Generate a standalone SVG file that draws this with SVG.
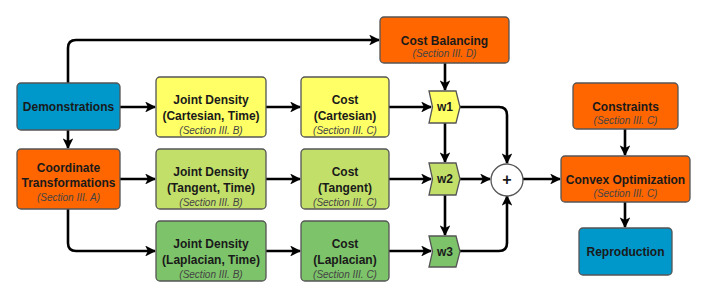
<svg xmlns="http://www.w3.org/2000/svg" width="706" height="298" viewBox="0 0 706 298">
<defs>
<marker id="ah" viewBox="0 0 10 10" refX="9" refY="5" markerWidth="4.2" markerHeight="4.2" markerUnits="strokeWidth" orient="auto">
<path d="M0,0 L10,5 L0,10 L2.5,5 z" fill="#000"/>
</marker>
<style>
.box{stroke:#555;stroke-width:1.3}
.blue{fill:#0097cb}
.orange{fill:#ff6600}
.yellow{fill:#ffff66}
.lg{fill:#c2df6a}
.dg{fill:#7dc36a}
.t{font-family:"Liberation Sans",Arial,sans-serif;font-weight:bold;font-size:12px;fill:#1a1a1a;text-anchor:middle}
.s{font-family:"Liberation Sans",Arial,sans-serif;font-style:italic;font-size:10px;fill:#444;text-anchor:middle}
.c{fill:none;stroke:#000;stroke-width:2.6;stroke-linejoin:round}
.ca{fill:none;stroke:#000;stroke-width:2.6;marker-end:url(#ah)}
</style>
</defs>
<rect width="706" height="298" fill="#fff"/>
<g id="connectors">
<path class="ca" d="M68,83 V48 Q68,40 76,40 H379"/>
<path class="ca" d="M120,107 H155"/>
<path class="ca" d="M68,130 V148"/>
<path class="ca" d="M120,179 H155"/>
<path class="ca" d="M68,209 V243 Q68,251 76,251 H155"/>
<path class="ca" d="M266,107 H300"/>
<path class="ca" d="M266,179 H300"/>
<path class="ca" d="M266,251 H300"/>
<path class="ca" d="M389,107 H431"/>
<path class="ca" d="M389,179 H431"/>
<path class="ca" d="M389,251 H431"/>
<path class="ca" d="M445,63 V90"/>
<path class="ca" d="M445,123 V162"/>
<path class="ca" d="M445,195 V235"/>
<path class="ca" d="M460,107 H499 Q507,107 507,115 V163"/>
<path class="ca" d="M460,179 H490"/>
<path class="ca" d="M460,251 H499 Q507,251 507,243 V196"/>
<path class="ca" d="M523,179 H560"/>
<path class="ca" d="M625,129 V155"/>
<path class="ca" d="M625,202 V227"/>
</g>
<g id="demonstrations">
<rect class="box blue" x="17" y="83" width="103" height="47" rx="4"/>
<text class="t" x="68.5" y="111">Demonstrations</text>
</g>
<g id="coordinate-transformations">
<rect class="box orange" x="17" y="149" width="103" height="60" rx="4"/>
<text class="t" x="68.5" y="172">Coordinate</text>
<text class="t" x="68.5" y="187">Transformations</text>
<text class="s" x="68.5" y="201">(Section III. A)</text>
</g>
<g id="jd-cartesian">
<rect class="box yellow" x="156" y="77" width="110" height="60" rx="4"/>
<text class="t" x="211" y="104">Joint Density</text>
<text class="t" x="211" y="120">(Cartesian, Time)</text>
<text class="s" x="211" y="134">(Section III. B)</text>
</g>
<g id="jd-tangent">
<rect class="box lg" x="156" y="149" width="110" height="60" rx="4"/>
<text class="t" x="211" y="176">Joint Density</text>
<text class="t" x="211" y="192">(Tangent, Time)</text>
<text class="s" x="211" y="206">(Section III. B)</text>
</g>
<g id="jd-laplacian">
<rect class="box dg" x="156" y="221" width="110" height="60" rx="4"/>
<text class="t" x="211" y="248">Joint Density</text>
<text class="t" x="211" y="264">(Laplacian, Time)</text>
<text class="s" x="211" y="278">(Section III. B)</text>
</g>
<g id="cost-cartesian">
<rect class="box yellow" x="301" y="77" width="88" height="60" rx="4"/>
<text class="t" x="345" y="104">Cost</text>
<text class="t" x="345" y="120">(Cartesian)</text>
<text class="s" x="345" y="134">(Section III. C)</text>
</g>
<g id="cost-tangent">
<rect class="box lg" x="301" y="149" width="88" height="60" rx="4"/>
<text class="t" x="345" y="176">Cost</text>
<text class="t" x="345" y="192">(Tangent)</text>
<text class="s" x="345" y="206">(Section III. C)</text>
</g>
<g id="cost-laplacian">
<rect class="box dg" x="301" y="221" width="88" height="60" rx="4"/>
<text class="t" x="345" y="248">Cost</text>
<text class="t" x="345" y="264">(Laplacian)</text>
<text class="s" x="345" y="278">(Section III. C)</text>
</g>
<g id="cost-balancing">
<rect class="box orange" x="380" y="17" width="129" height="46" rx="4"/>
<text class="t" x="444.5" y="45">Cost Balancing</text>
<text class="s" x="444.5" y="57">(Section III. D)</text>
</g>
<g id="w1">
<path class="box yellow" d="M429,91 H456 L460,107 L456,123 H429 L432.5,107 z"/>
<text class="t" x="445" y="111">w1</text>
</g>
<g id="w2">
<path class="box lg" d="M429,163 H456 L460,179 L456,195 H429 L432.5,179 z"/>
<text class="t" x="445" y="183">w2</text>
</g>
<g id="w3">
<path class="box dg" d="M429,236 H456 L460,251.5 L456,267 H429 L432.5,251.5 z"/>
<text class="t" x="445" y="255.5">w3</text>
</g>
<g id="sum">
<circle cx="507" cy="180" r="16" fill="#fff" stroke="#555" stroke-width="1.3"/>
<text class="t" x="507" y="185" style="font-size:16px">+</text>
</g>
<g id="constraints">
<rect class="box orange" x="573" y="83" width="105" height="46" rx="4"/>
<text class="t" x="625.5" y="111">Constraints</text>
<text class="s" x="625.5" y="124">(Section III. C)</text>
</g>
<g id="convex-optimization">
<rect class="box orange" x="561" y="156" width="129" height="46" rx="4"/>
<text class="t" x="625.5" y="184">Convex Optimization</text>
<text class="s" x="625.5" y="197">(Section III. C)</text>
</g>
<g id="reproduction">
<rect class="box blue" x="579" y="228" width="93" height="47" rx="4"/>
<text class="t" x="625.5" y="256">Reproduction</text>
</g>
</svg>
